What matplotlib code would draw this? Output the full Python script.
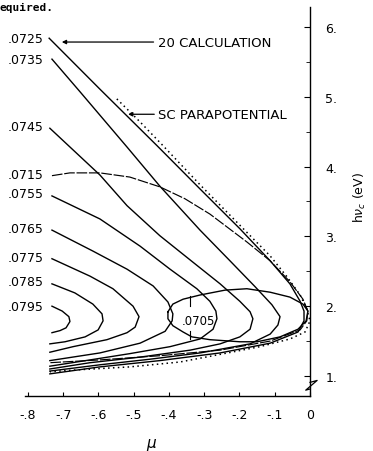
import matplotlib
matplotlib.use("Agg")
import matplotlib.pyplot as plt

plt.rcParams['font.family'] = 'DejaVu Sans'

# contour curves: mu values and h*nu_c (eV) values
mu_0725 = [-0.740, -0.596, -0.434, -0.312, -0.199, -0.113, -0.057, -0.028, -0.017, -0.017,
           -0.034, -0.113, -0.255, -0.426, -0.596, -0.738]
ev_0725 = [5.84, 5.11, 4.30, 3.68, 3.11, 2.65, 2.32, 2.07, 1.93, 1.79,
           1.63, 1.47, 1.33, 1.22, 1.13, 1.03]

mu_0735 = [-0.732, -0.652, -0.519, -0.426, -0.312, -0.227, -0.156, -0.108, -0.085, -0.091,
           -0.113, -0.170, -0.312, -0.454, -0.596, -0.738]
ev_0735 = [5.54, 5.07, 4.28, 3.72, 3.09, 2.65, 2.28, 2.02, 1.85, 1.73,
           1.60, 1.46, 1.33, 1.24, 1.16, 1.07]

mu_0745 = [-0.738, -0.596, -0.519, -0.426, -0.332, -0.255, -0.199, -0.170, -0.162, -0.170,
           -0.199, -0.255, -0.340, -0.482, -0.624, -0.738]
ev_0745 = [4.55, 3.88, 3.44, 3.01, 2.63, 2.32, 2.07, 1.92, 1.82, 1.67,
           1.56, 1.46, 1.37, 1.27, 1.19, 1.10]

mu_0755 = [-0.732, -0.596, -0.482, -0.397, -0.321, -0.284, -0.267, -0.264, -0.275, -0.312,
           -0.397, -0.511, -0.624, -0.738]
ev_0755 = [3.58, 3.25, 2.86, 2.53, 2.25, 2.07, 1.93, 1.82, 1.67, 1.53,
           1.42, 1.32, 1.23, 1.14]

mu_0765 = [-0.732, -0.616, -0.519, -0.445, -0.403, -0.389, -0.391, -0.411, -0.482, -0.596, -0.738]
ev_0765 = [3.09, 2.79, 2.53, 2.29, 2.06, 1.89, 1.79, 1.64, 1.47, 1.33, 1.22]

mu_0775 = [-0.732, -0.624, -0.559, -0.502, -0.485, -0.496, -0.519, -0.576, -0.672, -0.738]
ev_0775 = [2.68, 2.43, 2.25, 2.00, 1.85, 1.70, 1.62, 1.52, 1.42, 1.34]

mu_0785 = [-0.732, -0.667, -0.616, -0.590, -0.587, -0.601, -0.638, -0.695, -0.738]
ev_0785 = [2.32, 2.19, 2.03, 1.89, 1.79, 1.66, 1.56, 1.49, 1.46]

mu_0795 = [-0.732, -0.703, -0.684, -0.681, -0.692, -0.709, -0.732]
ev_0795 = [2.00, 1.93, 1.85, 1.78, 1.69, 1.65, 1.62]

mu_0715 = [-0.732, -0.681, -0.596, -0.511, -0.426, -0.355, -0.284, -0.179, -0.113, -0.057,
           -0.020, -0.006, -0.009, -0.028, -0.113, -0.255, -0.426, -0.596, -0.738]
ev_0715 = [3.87, 3.91, 3.91, 3.85, 3.71, 3.54, 3.32, 2.92, 2.65, 2.35,
           2.10, 1.93, 1.79, 1.66, 1.50, 1.37, 1.29, 1.23, 1.19]

mu_0705 = [-0.403, -0.389, -0.360, -0.312, -0.241, -0.179, -0.113, -0.057, -0.020, -0.006,
           -0.011, -0.034, -0.085, -0.150, -0.199, -0.284, -0.335, -0.360, -0.389, -0.403, -0.403]
ev_0705 = [1.92, 2.03, 2.10, 2.16, 2.23, 2.25, 2.20, 2.13, 2.03, 1.93,
           1.79, 1.67, 1.56, 1.49, 1.49, 1.52, 1.56, 1.63, 1.72, 1.82, 1.92]

# SC parapotential (dotted)
mu_sc = [-0.548, -0.482, -0.417, -0.312, -0.199, -0.113, -0.065, -0.028, -0.009, 0.0,
         -0.014, -0.057, -0.142, -0.275, -0.369, -0.511, -0.652, -0.738]
ev_sc = [4.97, 4.64, 4.30, 3.74, 3.16, 2.72, 2.42, 2.16, 1.96, 1.79,
         1.63, 1.53, 1.42, 1.29, 1.20, 1.13, 1.09, 1.06]

# contour labels at the left edge
left_labels = ['.0725', '.0735', '.0745', '.0715', '.0755', '.0765', '.0775', '.0785', '.0795']
left_label_ev = [5.84, 5.54, 4.57, 3.89, 3.61, 3.12, 2.70, 2.35, 2.00]

x_ticks = [-0.8, -0.7, -0.6, -0.5, -0.4, -0.3, -0.2, -0.1, 0.0]
x_tick_labels = ['-.8', '-.7', '-.6', '-.5', '-.4', '-.3', '-.2', '-.1', '0']
y_ticks = [1, 2, 3, 4, 5, 6]
y_tick_labels = ['1.', '2.', '3.', '4.', '5.', '6.']
y_minor = [1.5, 2.5, 3.5, 4.5, 5.5]

fig = plt.figure(figsize=(3.73, 4.52), dpi=100)
ax = fig.add_axes([0.067, 0.1217, 0.7641, 0.8606])

solid = [(mu_0725, ev_0725), (mu_0735, ev_0735), (mu_0745, ev_0745), (mu_0755, ev_0755),
         (mu_0765, ev_0765), (mu_0775, ev_0775), (mu_0785, ev_0785), (mu_0795, ev_0795),
         (mu_0705, ev_0705)]
for mu, ev in solid:
    ax.plot(mu, ev, color='black', lw=1.0, solid_joinstyle='round')

ax.plot(mu_0715, ev_0715, color='black', lw=0.85, linestyle=(0, (9, 1.5)))
ax.plot(mu_sc, ev_sc, color='black', lw=1.1, linestyle=(0, (1, 2.2)), clip_on=False)

# little leader marks at the .0705 label
ax.plot([-0.340, -0.340], [2.15, 2.00], color='black', lw=0.8)
ax.plot([-0.340, -0.340], [1.645, 1.53], color='black', lw=0.8)

for lab, ev in zip(left_labels, left_label_ev):
    ax.text(-0.755, ev, lab, ha='right', va='center', fontsize=9)
ax.text(-0.268, 1.79, '.0705', ha='right', va='center', fontsize=8.5)

ax.annotate('20 CALCULATION', xy=(-0.704, 5.785), xytext=(-0.432, 5.785),
            ha='left', va='center', fontsize=9.5,
            arrowprops=dict(arrowstyle='-|>', color='black', lw=0.9,
                            mutation_scale=6, relpos=(0, 0.5), shrinkA=1, shrinkB=0))
ax.annotate('SC PARAPOTENTIAL', xy=(-0.516, 4.75), xytext=(-0.43, 4.75),
            ha='left', va='center', fontsize=9.5,
            arrowprops=dict(arrowstyle='-|>', color='black', lw=0.9,
                            mutation_scale=6, relpos=(0, 0.5), shrinkA=1, shrinkB=0))

ax.set_xlim(-0.8085, 0)
ax.set_ylim(0.713, 6.287)

ax.spines['left'].set_visible(False)
ax.spines['top'].set_visible(False)
ax.spines['right'].set_linewidth(1.0)
ax.spines['bottom'].set_linewidth(1.0)

ax.set_xticks(x_ticks)
ax.set_xticklabels(x_tick_labels)
ax.set_yticks(y_ticks)
ax.set_yticklabels(y_tick_labels)
ax.set_yticks(y_minor, minor=True)
ax.yaxis.tick_right()
ax.tick_params(axis='y', which='major', direction='in', length=4, pad=11, labelsize=9,
               right=True, left=False)
ax.tick_params(axis='y', which='minor', direction='in', length=3, right=True, left=False)
ax.tick_params(axis='x', which='major', direction='in', length=3, pad=9, labelsize=9)

# axis break on the right spine
ax.plot([1.0, 1.025, 0.985, 1.0], [0.035, 0.04, 0.015, 0.018], transform=ax.transAxes,
        color='black', lw=0.9, clip_on=False)

fig.text(360 / 373, 1 - 198 / 452, r'h$\nu_c$ (eV)', rotation=90, ha='center', va='center',
         fontsize=9)
fig.text(152 / 373, 1 - 445 / 452, r'$\mu$', ha='center', va='center', fontsize=11)
fig.text(0.0, 1 - 8 / 452, 'equired.', ha='left', va='center', fontsize=8,
         family='DejaVu Sans Mono', weight='bold')

fig.savefig('out.png', dpi=100)
